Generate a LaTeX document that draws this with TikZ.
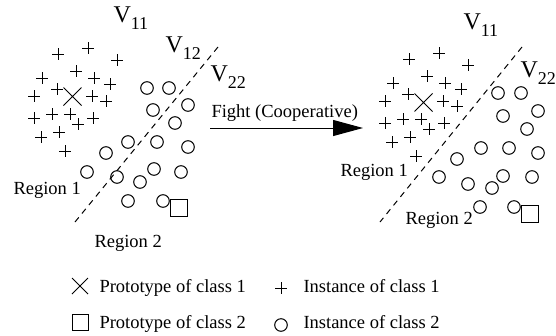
\documentclass[tikz,border=0pt]{standalone}
\usepackage{fontspec}
\setmainfont{Liberation Serif}
\usetikzlibrary{arrows.meta}
\tikzset{
  txt/.style={anchor=base west, inner sep=0pt, font=\fontsize{18.5}{20}\selectfont},
  vlab/.style={anchor=base west, inner sep=0pt, font=\fontsize{24}{26}\selectfont},
  border/.style={dash pattern=on 6pt off 5pt},
  inst/.style={radius=6.3pt}
}
\newcommand{\Vsub}[1]{V\raisebox{-7pt}{\fontsize{18}{18}\selectfont #1}}

\begin{document}
\begin{tikzpicture}[x=1pt, y=-1pt, line width=1pt]
\useasboundingbox (0,0) rectangle (556,335);

\foreach \dx/\dy in {0/0, 351/5}
  \foreach \x/\y in {58/54, 88/48, 117/60, 42/78, 76/71, 94/78, 110/84, 34/96, 57/89, 92/96,
                     106/101, 34/118, 52/114, 70/114, 78/124, 93/118, 41/137, 59/132, 65/151}
    \draw[shift={({\x+\dx},{\y+\dy})}] (-6,0) -- (6,0) (0,-6) -- (0,6);

\foreach \x/\y in {147/88, 169/88, 188/105, 153/110, 175/123, 128/142, 157/142, 188/147,
                   106/153, 154/169, 181/172, 87/172, 117/177, 140/182, 128/201, 163/201}
  \draw[inst] (\x,\y) circle;
\foreach \x/\y in {498/93, 521/93, 538/111, 503/116, 527/129, 481/148, 509/148, 538/153,
                   457/159, 503/176, 532/177, 439/177, 468/184, 492/188, 480/207, 514/207}
  \draw[inst] (\x,\y) circle;

\draw (63.5,87.5) -- (81.5,105.5) (63.5,105.5) -- (81.5,87.5);
\draw (414.5,93.5) -- (432.5,111.5) (414.5,111.5) -- (432.5,93.5);
\draw (170,199.5) rectangle (187,216.5);
\draw (521.5,205.5) rectangle (538.5,222.5);

\coordinate (bl1) at (218,47);
\coordinate (bl2) at (75,222);
\coordinate (br1) at (522,47);
\coordinate (br2) at (380,222);
\draw[border] (bl1) -- (bl2);
\draw[border] (br1) -- (br2);

\node[vlab] (v11a) at (113,22) {\Vsub{11}};
\node[vlab] (v12a) at (165,52) {\Vsub{12}};
\node[vlab] (v22a) at (210,81) {\Vsub{22}};
\node[vlab] (v11b) at (463,29) {\Vsub{11}};
\node[vlab] (v22b) at (520,77) {\Vsub{22}};

\node[txt] (reg1a) at (13,194.5) {Region 1};
\node[txt] (reg2a) at (94,247) {Region 2};
\node[txt] (reg1b) at (340,176.5) {Region 1};
\node[txt] (reg2b) at (405,224.5) {Region 2};

\coordinate (fs) at (210,128);
\coordinate (fe) at (363,128);
\draw[-{Triangle[length=30pt, width=16pt]}] (fs) -- (fe);
\node[txt] (fight) at (211,117.5) {Fight (Cooperative)};

\draw (72,278) -- (88,294) (72,294) -- (88,278);
\draw (275,288) -- (287,288) (281,282) -- (281,294);
\draw (72,314.5) rectangle (88,330.5);
\draw[inst] (281,325) circle;
\node[txt] (proto1) at (99,292) {Prototype of class 1};
\node[txt] (inst1) at (303,292) {Instance of class 1};
\node[txt] (proto2) at (99,328) {Prototype of class 2};
\node[txt] (inst2) at (303,328) {Instance of class 2};
\end{tikzpicture}
\end{document}
